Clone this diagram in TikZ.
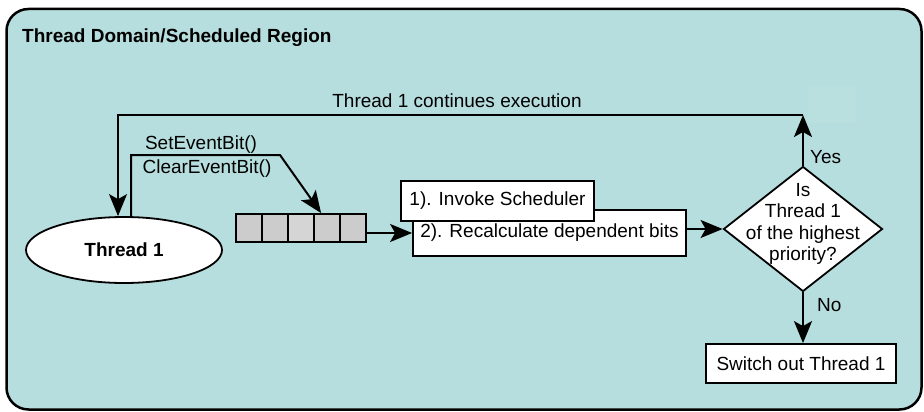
\documentclass[tikz,border=0pt]{standalone}
\usepackage{fontspec}
\setmainfont{Liberation Sans}
\usetikzlibrary{arrows.meta,shapes.geometric,calc}
\definecolor{bgteal}{RGB}{183,222,222}
\definecolor{faintteal}{RGB}{185,223,223}
\definecolor{cellgray}{RGB}{204,204,204}
\definecolor{cellgraylight}{RGB}{213,213,213}
\tikzset{
  txt/.style={font=\fontsize{19}{21.5}\selectfont},
  boldtxt/.style={font=\bfseries\fontsize{19}{21.5}\selectfont},
  lbl/.style={txt, inner sep=0pt},
  box/.style={draw, fill=white, line width=1.8pt, inner sep=0pt, txt},
  cell/.style={draw, fill=cellgray, line width=1.8pt, inner sep=0pt, minimum width=26pt, minimum height=28pt},
  ell/.style={ellipse, draw, fill=white, line width=1.8pt, inner sep=0pt, minimum width=196pt, minimum height=66pt, boldtxt},
  dia/.style={diamond, draw, fill=white, line width=1.8pt, inner sep=0pt, minimum width=159pt, minimum height=125pt},
  arr/.style={-{Stealth[length=22pt,width=18pt,inset=5pt]}, line width=2pt},
}
\begin{document}
\begin{tikzpicture}[x=1pt,y=-1pt]
\useasboundingbox (0,0) rectangle (924,412);
% background region
\fill[bgteal, draw=black, line width=2.5pt, rounded corners=22pt] (6.5,9) rectangle (921.5,409.5);
\fill[faintteal] (808,87) rectangle (856,123);
\node[anchor=base west, boldtxt, inner sep=0pt] (title) at (22,43) {Thread Domain/Scheduled Region};

% thread ellipse
\node[ell] (t) at (124,250) {Thread 1};

% queue cells
\node[cell] (c1) at (249,228) {};
\node[cell] (c2) at (275,228) {};
\node[cell, fill=cellgraylight] (c3) at (301,228) {};
\node[cell] (c4) at (327,228) {};
\node[cell] (c5) at (353,228) {};

% scheduler boxes
\node[box, minimum width=273pt, minimum height=46pt] (b2) at (549.5,233) {2). Recalculate dependent bits};
\node[box, minimum width=193pt, minimum height=40pt] (b1) at (497.5,201) {1). Invoke Scheduler};

% decision
\node[dia] (d) at (803,229) {};
\node[lbl, align=center] (dq) at (803,224) {Is\\Thread 1\\of the highest\\priority?};

% switch out
\node[box, minimum width=190pt, minimum height=39pt] (sw) at (801,363.5) {Switch out Thread 1};

% coordinates
\coordinate (tr) at (803,115);
\coordinate (tl) at (118,115);
\coordinate (s1) at (131,155);
\coordinate (s2) at (280,155);
\coordinate (qtip) at ($(c4.north west)+(8,0)$);

% connectors
\draw[arr] (d.north) -- (tr);
\draw[arr, line width=1.7pt] (tr) -- (tl) -- (tl |- t.north);
\draw[arr] (s1 |- t.north) -- (s1) -- (s2) -- (qtip);
\draw[arr] (c5.east |- b2.west) -- (b2.west);
\draw[arr] (b2.east |- d.west) -- (d.west);
\draw[arr] (d.south) -- (d.south |- sw.north);

% labels
\node[lbl, anchor=base] (lcont) at (457,107) {Thread 1 continues execution};
\node[lbl, anchor=base] (lset) at (201,149) {SetEventBit()};
\node[lbl, anchor=base] (lclr) at (207,173) {ClearEventBit()};
\node[lbl, anchor=base west] (lyes) at (810,163) {Yes};
\node[lbl, anchor=base west] (lno) at (817,311) {No};
\end{tikzpicture}
\end{document}
